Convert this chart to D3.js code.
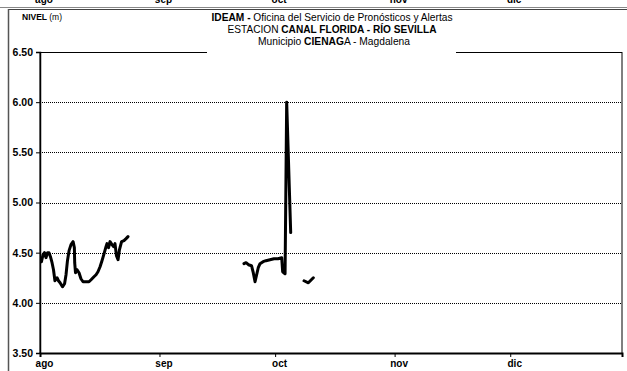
<!DOCTYPE html>
<html><head><meta charset="utf-8">
<script src="https://cdn.jsdelivr.net/npm/d3@7"></script>
<style>body{margin:0;background:#fff}svg{display:block}text{font-family:"Liberation Sans",Arial,sans-serif}</style>
</head><body><div id="c"></div>
<script>
const monthLabels = ["ago","sep","oct","nov","dic"];
const monthStarts = ["2011-08-01","2011-09-01","2011-10-01","2011-11-01","2011-12-01"];
const yTicks = [3.5,4.0,4.5,5.0,5.5,6.0,6.5];
const dates = [
"2011-08-01T09","2011-08-01T19","2011-08-02T04","2011-08-02T13","2011-08-02T23","2011-08-03T08","2011-08-03T17","2011-08-04T03","2011-08-04T12","2011-08-04T21",
"2011-08-05T10","2011-08-05T19","2011-08-06T05","2011-08-06T20","2011-08-07T09","2011-08-07T18","2011-08-08T03","2011-08-08T13","2011-08-09T01","2011-08-09T14",
"2011-08-09T22","2011-08-10T00","2011-08-10T05","2011-08-10T14","2011-08-11T03","2011-08-11T15","2011-08-12T04","2011-08-12T22","2011-08-13T17","2011-08-14T06",
"2011-08-15T00","2011-08-15T13","2011-08-16T01","2011-08-16T14","2011-08-17T02","2011-08-17T15","2011-08-18T03","2011-08-18T09","2011-08-18T19","2011-08-19T04",
"2011-08-19T16","2011-08-20T02","2011-08-20T11","2011-08-20T20","2011-08-21T06","2011-08-21T15","2011-08-22T04","2011-08-22T19","2011-08-23T08","2011-08-23T20",
"2011-08-24T00",
"2011-09-22T22","2011-09-23T11","2011-09-24T02","2011-09-24T21","2011-09-25T08","2011-09-25T19","2011-09-26T05","2011-09-26T15","2011-09-27T02","2011-09-27T21",
"2011-09-28T15","2011-09-29T16","2011-09-30T17","2011-10-01T18","2011-10-02T17","2011-10-02T23","2011-10-03T14","2011-10-04T00","2011-10-05T01",
"2011-10-06T00",
"2011-10-08T12","2011-10-09T15","2011-10-10T22"];
const levels = [
4.41,4.48,4.50,4.45,4.50,4.50,4.46,4.40,4.33,4.22,
4.25,4.22,4.20,4.16,4.19,4.28,4.42,4.52,4.58,4.61,
4.55,4.40,4.30,4.33,4.30,4.24,4.21,4.21,4.21,4.23,
4.26,4.28,4.31,4.36,4.42,4.49,4.56,4.59,4.55,4.61,
4.58,4.56,4.59,4.47,4.43,4.53,4.61,4.62,4.64,4.66,
null,
4.39,4.40,4.38,4.37,4.30,4.21,4.28,4.35,4.39,4.41,
4.42,4.43,4.44,4.44,4.45,4.31,4.29,6.00,4.70,
null,
4.22,4.20,4.25];

const W=627,H=371, L=40,R=622,T=52,B=353;
const parseH = d3.utcParse("%Y-%m-%dT%H"), parseD = d3.utcParse("%Y-%m-%d");
const data = dates.map((d,i)=>({t:parseH(d), v:levels[i]}));
const x = d3.scaleUtc().domain([parseD("2011-08-01"), parseD("2011-12-30")]).range([L,R]);
const y = d3.scaleLinear().domain([3.5,6.5]).range([B,T]);

const svg = d3.select("#c").append("svg").attr("width",W).attr("height",H);

// cut-off labels from chart above
svg.append("g").selectAll("text").data(monthLabels).join("text")
  .attr("x",(d,i)=>x(parseD(monthStarts[i]))+4).attr("y",2.5)
  .attr("text-anchor","middle").attr("font-size",10).attr("font-weight","bold").text(d=>d);
svg.append("line").attr("x1",0).attr("x2",W).attr("y1",7.5).attr("y2",7.5).attr("stroke","#888").attr("stroke-width",1);
svg.append("line").attr("x1",8).attr("x2",W).attr("y1",9.5).attr("y2",9.5).attr("stroke","#444").attr("stroke-width",1);
svg.append("line").attr("x1",8.5).attr("x2",8.5).attr("y1",9).attr("y2",H).attr("stroke","#555").attr("stroke-width",1.5);

// gridlines
svg.append("g").selectAll("line").data(yTicks.filter(v=>v>3.5&&v<6.5)).join("line")
  .attr("x1",L).attr("x2",R).attr("y1",d=>Math.round(y(d))+0.5).attr("y2",d=>Math.round(y(d))+0.5)
  .attr("stroke","#000").attr("stroke-width",1).attr("stroke-dasharray","1,1");

// frame
svg.append("rect").attr("x",L).attr("y",T+0.5).attr("width",R-L).attr("height",B-T).attr("fill","none").attr("stroke","#000").attr("stroke-width",1);

// y axis
const ya = svg.append("g").attr("transform",`translate(${L},0)`)
  .call(d3.axisLeft(y).tickValues(yTicks).tickSize(4).tickFormat(d3.format(".2f")));
ya.select(".domain").attr("stroke-width",1.5);
ya.selectAll("text").attr("font-size",10.5).attr("font-weight","bold").attr("fill","#000").attr("font-family","Liberation Sans, Arial").attr("x",-7);

// x axis
const xa = svg.append("g").attr("transform",`translate(0,${B})`)
  .call(d3.axisBottom(x).tickValues(monthStarts.map(parseD)).tickSize(4).tickFormat((d,i)=>monthLabels[i]));
xa.select(".domain").attr("stroke-width",2);
xa.selectAll("text").attr("font-size",10).attr("font-weight","bold").attr("fill","#000").attr("font-family","Liberation Sans, Arial").attr("dx",4).attr("y",7);

// series line
const line = d3.line().defined(d=>d.v!=null).x(d=>x(d.t)).y(d=>y(d.v));
svg.append("path").datum(data).attr("d",line).attr("fill","none").attr("stroke","#000")
  .attr("stroke-width",3).attr("stroke-linejoin","round").attr("stroke-linecap","round");

// title box
svg.append("rect").attr("x",207).attr("y",11).attr("width",249).attr("height",42).attr("fill","#fff");
const t1 = svg.append("text").attr("x",332).attr("y",21).attr("text-anchor","middle").attr("font-size",10.5)
  .attr("textLength",241).attr("lengthAdjust","spacingAndGlyphs");
t1.append("tspan").attr("font-weight","bold").text("IDEAM - ");
t1.append("tspan").text("Oficina del Servicio de Pronósticos y Alertas");
const t2 = svg.append("text").attr("x",332).attr("y",33).attr("text-anchor","middle").attr("font-size",10.5)
  .attr("textLength",209).attr("lengthAdjust","spacingAndGlyphs");
t2.append("tspan").text("ESTACION ");
t2.append("tspan").attr("font-weight","bold").text("CANAL FLORIDA - RÍO SEVILLA");
const t3 = svg.append("text").attr("x",334).attr("y",45).attr("text-anchor","middle").attr("font-size",10.5)
  .attr("textLength",152).attr("lengthAdjust","spacingAndGlyphs");
t3.append("tspan").text("Municipio ");
t3.append("tspan").attr("font-weight","bold").text("CIENAG");
t3.append("tspan").text("A - Magdalena");

const n = svg.append("text").attr("x",22).attr("y",20).attr("font-size",8.5);
n.append("tspan").attr("font-weight","bold").text("NIVEL ");
n.append("tspan").text("(m)");
</script></body></html>
